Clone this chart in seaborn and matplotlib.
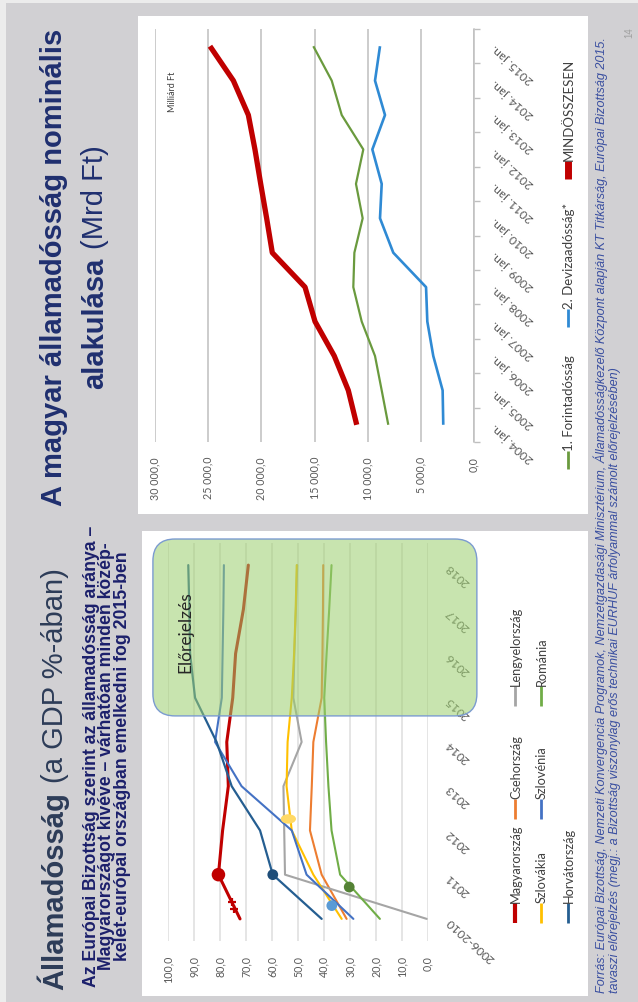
import numpy as np
import pandas as pd
import matplotlib
matplotlib.use("Agg")
import matplotlib.pyplot as plt
import seaborn as sns
from matplotlib.patches import Rectangle, FancyBboxPatch
from matplotlib.lines import Line2D
from matplotlib.path import Path
from matplotlib import font_manager

# ---------------- nominal government debt (billion HUF, January) ----------------
debt_months = ["2004. jan.", "2005. jan.", "2006. jan.", "2007. jan.", "2008. jan.",
               "2009. jan.", "2010. jan.", "2011. jan.", "2012. jan.", "2013. jan.",
               "2014. jan.", "2015. jan."]
forint_debt = [8060, 8680, 9310, 10560, 11350, 11250, 10470, 11100, 10410, 12440, 13380, 15110]
fx_debt = [2890, 2950, 3830, 4390, 4510, 7590, 8840, 8680, 9560, 8370, 9310, 8840]
total_debt = [11030, 11820, 13140, 14950, 15890, 18970, 19500, 20060, 20600, 21220, 22630, 24830]
debt_series = ["1. Forintadósság", "2. Devizaadósság*", "MINDÖSSZESEN"]
debt_ticks = [0, 5000, 10000, 15000, 20000, 25000, 30000]

# ---------------- debt-to-GDP ratios (%) ----------------
gdp_periods = ["2006-2010", "2011", "2012", "2013", "2014", "2015", "2016", "2017", "2018"]
countries = ["Magyarország", "Csehország", "Lengyelország", "Szlovákia",
             "Szlovénia", "Románia", "Horvátország"]
hungary = [72.3, 80.6, 79.0, 76.8, 77.4, 75.1, 74.0, 71.0, 69.1]
czechia = [31.3, 40.9, 45.4, 44.7, 44.1, 40.9, 40.6, 40.4, 40.3]
poland = [0.5, 55.0, 55.3, 55.6, 48.6, 51.8, 51.4, 50.8, 50.3]
slovakia = [33.2, 44.1, 52.4, 54.4, 54.0, 52.4, 51.5, 50.9, 50.5]
slovenia = [28.7, 46.7, 52.4, 71.7, 81.9, 79.3, 79.0, 78.7, 78.5]
romania = [18.5, 33.8, 37.1, 38.3, 39.2, 39.9, 39.0, 38.0, 37.1]
croatia = [40.9, 59.7, 64.6, 75.5, 81.3, 89.6, 91.5, 91.8, 92.2]
gdp_ticks = [0, 10, 20, 30, 40, 50, 60, 70, 80, 90, 100]
forecast_start = "2015"

# highlighted points on the ratio lines (position along the period axis, value)
dot_pos = [1.0, 1.0, 2.26, 0.30, 0.72]
dot_val = [80.6, 59.7, 53.7, 37.0, 30.3]
dot_color = ["#c00000", "#1f4e79", "#ffd966", "#5b9bd5", "#548235"]
dot_size = [95, 60, 120, 60, 60]
cross_pos = [0.38, 0.23]
cross_val = [75.5, 74.6]

# ---------------- style ----------------
sns.set_theme(style="white")
plt.rcParams["font.family"] = ["Lato", "DejaVu Sans"]
names = {f.name for f in font_manager.fontManager.ttflist}
NARROW = "Liberation Sans Narrow" if "Liberation Sans Narrow" in names else "Liberation Sans"
ARIAL = "Liberation Sans"

SLIDE = "#d1d0d3"
W, H = 638, 1003
fig = plt.figure(figsize=(W / 100, H / 100), dpi=100)
fig.patch.set_facecolor(SLIDE)
renderer = fig.canvas.get_renderer()


def fx(x):
    return x / W


def fy(y):
    return 1 - y / H


def panel(x0, y0, x1, y1, color):
    fig.add_artist(Rectangle((fx(x0), fy(y1)), fx(x1) - fx(x0), fy(y0) - fy(y1),
                             transform=fig.transFigure, facecolor=color,
                             edgecolor="none", zorder=-1))


def vtext(x, y, s, size, color, ha="left", **kw):
    """Text reading bottom-to-top; x is the baseline, y the start (ha=left)."""
    return fig.text(fx(x), fy(y), s, rotation=90, rotation_mode="anchor",
                    ha=ha, va="baseline", fontsize=size, color=color, **kw)


def length(t):
    return t.get_window_extent(renderer=renderer).height


def fit(t, target):
    t.set_fontsize(t.get_fontsize() * target / length(t))


def mixed_line(parts, x, y_start, size, color, family):
    """Consecutive pieces with different weights on one vertical line."""
    y = y_start
    out = []
    for s, weight in parts:
        t = vtext(x, y, s, size, color, family=family, fontweight=weight)
        y -= length(t) + 0.3 * size * 1.389
        out.append(t)
    return out


# background panels
panel(0, 0, 6, H, "#ececec")
panel(0, 0, W, 4, "#ececec")
panel(138, 17, 588, 515, "white")
panel(142, 532, 588, 997, "white")


def fmt_thousands(v):
    return f"{v:,.1f}".replace(",", " ").replace(".", ",")


# ======================= nominal debt chart =======================
ax1 = fig.add_axes([fx(155), fy(443), fx(474) - fx(155), fy(30) - fy(443)])
ax1.patch.set_alpha(0)
df_debt = pd.DataFrame({
    "pos": list(range(len(debt_months))) * 3,
    "value": forint_debt + fx_debt + total_debt,
    "series": np.repeat(debt_series, len(debt_months)),
})
debt_colors = ["#6a9a3e", "#2f8ad4", "#c00000"]
debt_widths = [1.6, 1.9, 3.8]
for name, col, lw in zip(debt_series, debt_colors, debt_widths):
    sns.lineplot(data=df_debt[df_debt["series"] == name], x="value", y="pos",
                 orient="y", color=col, linewidth=lw, errorbar=None,
                 ax=ax1, legend=False, solid_capstyle="butt", zorder=3)

ax1.set_xlim(30000, 0)
ax1.set_ylim(-0.5, len(debt_months) - 0.5)
ax1.set_xticks(debt_ticks)
ax1.set_xticklabels([fmt_thousands(v) for v in debt_ticks], rotation=90,
                    fontsize=7.7, color="#595959")
ax1.yaxis.tick_right()
ax1.set_yticks(range(len(debt_months)))
ax1.set_yticklabels(debt_months, fontsize=8.7, color="#595959")
ax1.set_yticks(np.arange(-0.5, len(debt_months), 1), minor=True)
for lab in ax1.get_yticklabels():
    lab.set_rotation(138)
    lab.set_rotation_mode("anchor")
    lab.set_ha("right")
    lab.set_va("center")
ax1.tick_params(axis="y", which="major", length=0, pad=14)
ax1.tick_params(axis="y", which="minor", length=4, width=1, color="#bfbfbf", right=True, left=False)
ax1.tick_params(axis="x", length=0, pad=10)
ax1.grid(axis="x", color="#bfbfbf", linewidth=1.1)
ax1.grid(axis="y", visible=False)
ax1.set_axisbelow(True)
for side in ["left", "top", "bottom"]:
    ax1.spines[side].set_visible(False)
ax1.spines["right"].set_color("#bfbfbf")
ax1.spines["right"].set_linewidth(1.1)
ax1.set_xlabel("")
ax1.set_ylabel("")

vtext(175, 112, "Milliárd Ft", 6.5, "#404040")

# legend of the nominal debt chart
legend1 = [(470, debt_colors[0], 2.0, debt_series[0]),
           (328, debt_colors[1], 2.0, debt_series[1]),
           (180, debt_colors[2], 5.0, debt_series[2])]
for y0, col, lw, lab in legend1:
    fig.add_artist(Line2D([fx(568), fx(568)], [fy(y0), fy(y0 - 18)], color=col,
                          linewidth=lw, transform=fig.transFigure, solid_capstyle="butt"))
    vtext(573, y0 - 19, lab, 9.5, "#404040")

# ======================= debt-to-GDP chart =======================
ax2 = fig.add_axes([fx(168), fy(942), fx(428) - fx(168), fy(544) - fy(942)])
ax2.patch.set_alpha(0)
ratios = [hungary, czechia, poland, slovakia, slovenia, romania, croatia]
country_colors = ["#c00000", "#ed7d31", "#a5a5a5", "#ffc000", "#4472c4", "#70ad47", "#255e91"]
country_widths = [2.2, 1.5, 1.5, 1.5, 1.5, 1.5, 1.6]
df_gdp = pd.DataFrame({
    "pos": list(range(len(gdp_periods))) * len(countries),
    "value": sum(ratios, []),
    "country": np.repeat(countries, len(gdp_periods)),
})
for name, col, lw in zip(countries, country_colors, country_widths):
    sns.lineplot(data=df_gdp[df_gdp["country"] == name], x="value", y="pos",
                 orient="y", color=col, linewidth=lw, errorbar=None,
                 ax=ax2, legend=False, zorder=3)

# highlighted points
ellipse = Path.unit_circle().transformed(matplotlib.transforms.Affine2D().scale(1.0, 0.62))
markers = ["o", "o", ellipse, "o", "o"]
for p, v, c, s, m in zip(dot_pos, dot_val, dot_color, dot_size, markers):
    sns.scatterplot(x=[v], y=[p], color=c, s=s, marker=m, edgecolor="none",
                    ax=ax2, zorder=4, legend=False)
sns.scatterplot(x=cross_val, y=cross_pos, color="#c00000", marker="+", s=40,
                linewidth=1.6, ax=ax2, zorder=4, legend=False)

ax2.set_xlim(100, 0)
ax2.set_ylim(-0.5, len(gdp_periods) - 0.5)
ax2.set_xticks(gdp_ticks)
ax2.set_xticklabels([f"{v:.1f}".replace(".", ",") for v in gdp_ticks], rotation=90,
                    fontsize=7.7, color="#595959")
ax2.yaxis.tick_right()
ax2.set_yticks(range(len(gdp_periods)))
ax2.set_yticklabels(gdp_periods, fontsize=8.7, color="#595959")
for lab in ax2.get_yticklabels():
    lab.set_rotation(138)
    lab.set_rotation_mode("anchor")
    lab.set_ha("right")
    lab.set_va("center")
ax2.tick_params(axis="y", length=0, pad=14)
ax2.tick_params(axis="x", length=0, pad=10)
ax2.grid(axis="x", color="#e3e3e3", linewidth=1.3)
ax2.grid(axis="y", visible=False)
ax2.set_axisbelow(True)
for side in ["left", "top", "bottom", "right"]:
    ax2.spines[side].set_visible(False)
ax2.set_xlabel("")
ax2.set_ylabel("")

# forecast region
bb = ax2.get_position()
px_x = bb.width * W / 100.0
px_y = bb.height * H / len(gdp_periods)
radius_px = 22
r_units = radius_px / px_x
k0 = gdp_periods.index(forecast_start) - 0.41
box = FancyBboxPatch((-18.8, k0), 124.6, len(gdp_periods) - 0.41 - k0,
                     boxstyle=f"round,pad=0,rounding_size={r_units}",
                     mutation_aspect=(radius_px / px_y) / r_units,
                     transform=ax2.transData, clip_on=False, zorder=5,
                     facecolor=(0.612, 0.812, 0.431, 0.55), edgecolor="#7b9bd0",
                     linewidth=1.0)
ax2.add_patch(box)
t_fc = vtext(190, 673, "Előrejelzés", 12.5, "#262626")
t_fc.set_zorder(6)

# legend of the ratio chart
leg_cols = [515, 541, 568]
leg_rows = [924, 820, 707]
for i, (name, col) in enumerate(zip(countries, country_colors)):
    x = leg_cols[i // 3]
    y0 = leg_rows[i % 3]
    lw = 3.0 if i == 0 else 2.0
    fig.add_artist(Line2D([fx(x), fx(x)], [fy(y0), fy(y0 - 20)], color=col,
                          linewidth=lw, transform=fig.transFigure, solid_capstyle="butt"))
    vtext(x + 5, y0 - 21, name, 9.2, "#404040")

# ======================= titles and notes =======================
top_col = "#1f2f6f"
t = vtext(62, 0, "A magyar államadósság nominális", 21, top_col, family=ARIAL,
          fontweight="bold")
L = length(t)
t.set_position((fx(62), fy(267 + L / 2)))

parts = mixed_line([("alakulása", "bold"), ("(Mrd Ft)", "normal")], 103, 0, 21, top_col, ARIAL)
total = sum(length(p) for p in parts) + 0.3 * 21 * 1.389
y = 267 + total / 2
for p in parts:
    p.set_position((fx(103), fy(y)))
    y -= length(p) + 0.3 * 21 * 1.389

mixed_line([("Államadósság", "bold"), ("(a GDP %-ában)", "normal")], 63, 990, 21,
           "#2d3c58", ARIAL)

sub_col = "#1b1f6b"
sub_lines = ["Az Európai Bizottság szerint az államadósság aránya –",
             "Magyarországot kivéve – várhatóan minden közép-",
             "kelet-európai országban emelkedni fog 2015-ben"]
sub_base = [96, 111, 127]
subs = [vtext(b, 0, s, 11, sub_col, family=NARROW, fontweight="bold")
        for b, s in zip(sub_base, sub_lines)]
fit(subs[0], 460)
for s in subs[1:]:
    s.set_fontsize(subs[0].get_fontsize())
for b, s in zip(sub_base, subs):
    s.set_position((fx(b), fy(756 + length(s) / 2)))

src_col = "#3a4fa0"
src_lines = ["Forrás: Európai Bizottság, Nemzeti Konvergencia Programok, Nemzetgazdasági "
             "Minisztérium, Államadósságkezelő Központ alapján KT Titkárság, Európai Bizottság 2015.",
             "tavaszi előrejelzés (megj.: a Bizottság viszonylag erős technikai EURHUF "
             "árfolyammal számolt előrejelzésében)"]
srcs = [vtext(b, 993, s, 8, src_col, family=ARIAL, style="italic")
        for b, s in zip([605, 618], src_lines)]
fit(srcs[0], 970)
srcs[1].set_fontsize(srcs[0].get_fontsize())

vtext(632, 38, "14", 7, "#a0a0a0", family=ARIAL)

fig.savefig("out.png", dpi=100, facecolor=SLIDE)
